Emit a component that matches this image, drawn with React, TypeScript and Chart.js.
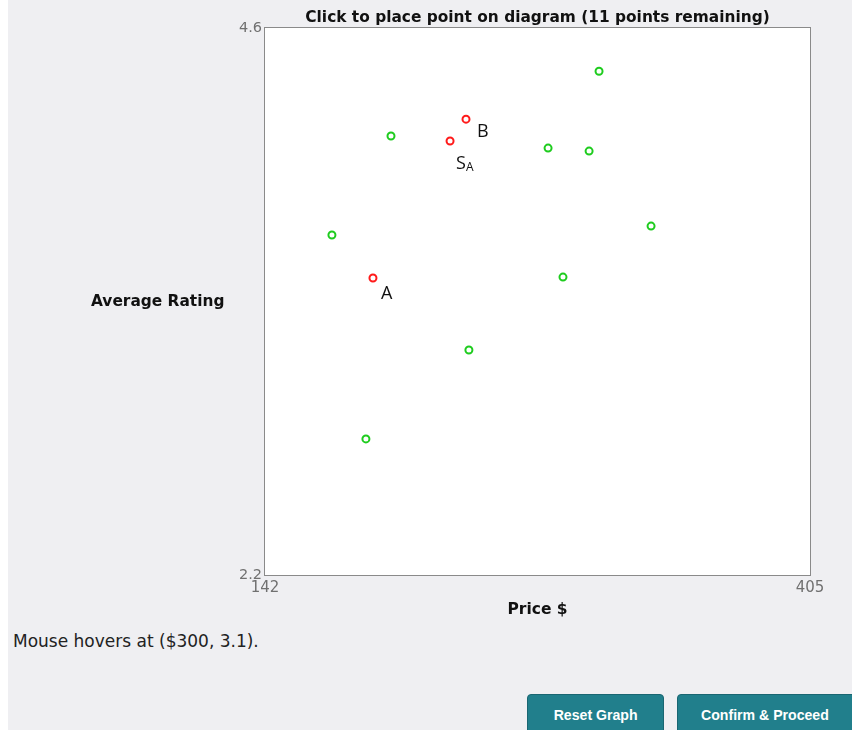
import React, { useEffect, useRef } from "react";
import { Chart, registerables } from "chart.js";

Chart.register(...registerables);

const TITLE = "Click to place point on diagram (11 points remaining)";
const X_LABEL = "Price $";
const Y_LABEL = "Average Rating";
const HOVER_TEXT = "Mouse hovers at ($300, 3.1).";
const BUTTONS = ["Reset Graph", "Confirm & Proceed"];

const X_MIN = 142;
const X_MAX = 405;
const Y_MIN = 2.2;
const Y_MAX = 4.6;
const X_TICKS = [142, 405];
const Y_TICKS = [2.2, 4.6];

const GREEN_X = [303.2, 202.8, 278.6, 298.4, 174.3, 328.3, 285.8, 240.4, 190.7];
const GREEN_Y = [4.41, 4.126, 4.073, 4.06, 3.692, 3.731, 3.507, 3.187, 2.797];

const RED_X = [194.1, 239.0, 231.3];
const RED_Y = [3.503, 4.2, 4.104];
const RED_NAMES = ["A", "B", "S"];
const RED_SUBS = ["", "", "A"];

// label styling offsets (px) relative to each red point
const LABEL_OFFSETS: [number, number][] = [
  [8, 21],
  [11, 18],
  [6, 28],
];

const FONT = "'DejaVu Sans', Verdana, sans-serif";
const PLOT_LEFT = 257; // canvas px, width of the y-axis box
const PLOT_RIGHT_PAD = 34;
const CANVAS_W = 836;
const CANVAS_H = 620;

const boxPlugin = {
  id: "boxPlugin",
  beforeDraw(chart: any) {
    const { ctx, chartArea: a } = chart;
    ctx.save();
    ctx.fillStyle = "#ffffff";
    ctx.fillRect(a.left, a.top, a.right - a.left, a.bottom - a.top);
    ctx.restore();
  },
  afterDatasetsDraw(chart: any) {
    const { ctx, chartArea: a } = chart;
    ctx.save();
    ctx.strokeStyle = "#8a8a8a";
    ctx.lineWidth = 1;
    ctx.strokeRect(
      Math.round(a.left) - 0.5,
      Math.round(a.top) - 0.5,
      Math.round(a.right - a.left) + 1,
      Math.round(a.bottom - a.top) + 1
    );
    const meta = chart.getDatasetMeta(1);
    meta.data.forEach((el: any, i: number) => {
      const [dx, dy] = LABEL_OFFSETS[i];
      ctx.fillStyle = "#111111";
      ctx.textAlign = "left";
      ctx.textBaseline = "alphabetic";
      ctx.font = "18px 'Open Sans', 'Noto Sans', sans-serif";
      const x = el.x + dx;
      const y = el.y + dy;
      ctx.fillText(RED_NAMES[i], x, y);
      if (RED_SUBS[i]) {
        const w = ctx.measureText(RED_NAMES[i]).width;
        ctx.font = "12px 'Open Sans', 'Noto Sans', sans-serif";
        ctx.fillText(RED_SUBS[i], x + w, y + 2);
      }
    });
    ctx.restore();
  },
};

export default function App() {
  const canvasRef = useRef<HTMLCanvasElement | null>(null);

  useEffect(() => {
    if (!canvasRef.current) return;
    const chart = new Chart(canvasRef.current, {
      type: "scatter",
      data: {
        datasets: [
          {
            data: GREEN_X.map((x, i) => ({ x, y: GREEN_Y[i] })),
            borderColor: "#1ecc1e",
            backgroundColor: "#ffffff",
            pointRadius: 3.5,
            pointBorderWidth: 2,
            pointHoverRadius: 3.5,
          },
          {
            data: RED_X.map((x, i) => ({ x, y: RED_Y[i] })),
            borderColor: "#ff1a1a",
            backgroundColor: "#ffffff",
            pointRadius: 3.5,
            pointBorderWidth: 2,
            pointHoverRadius: 3.5,
          },
        ],
      },
      options: {
        responsive: false,
        animation: false,
        layout: { padding: { left: 0, right: PLOT_RIGHT_PAD, top: 28, bottom: 0 } },
        plugins: {
          legend: { display: false },
          tooltip: { enabled: false },
          title: { display: false },
        },
        scales: {
          x: {
            type: "linear",
            min: X_MIN,
            max: X_MAX,
            afterBuildTicks: (s: any) => {
              s.ticks = X_TICKS.map((v) => ({ value: v }));
            },
            afterFit: (s: any) => {
              s.height = 45;
            },
            grid: { display: false, drawTicks: false },
            border: { display: false },
            ticks: {
              color: "#707070",
              font: { family: FONT, size: 15 },
              padding: 4,
              maxRotation: 0,
              autoSkip: false,
              callback: (v: any) => String(v),
            },
            title: {
              display: true,
              text: X_LABEL,
              color: "#111111",
              font: { family: FONT, size: 15.5, weight: "bold" },
              padding: { top: 0, bottom: 1 },
            },
          },
          y: {
            type: "linear",
            min: Y_MIN,
            max: Y_MAX,
            afterBuildTicks: (s: any) => {
              s.ticks = Y_TICKS.map((v) => ({ value: v }));
            },
            afterFit: (s: any) => {
              s.width = PLOT_LEFT;
            },
            grid: { display: false, drawTicks: false },
            border: { display: false },
            ticks: {
              color: "#707070",
              font: { family: FONT, size: 14.5 },
              padding: 3,
              autoSkip: false,
              callback: (v: any) => Number(v).toFixed(1),
            },
          },
        },
      },
      plugins: [boxPlugin],
    } as any);
    return () => chart.destroy();
  }, []);

  const btn: React.CSSProperties = {
    position: "absolute",
    top: 694,
    height: 50,
    background: "#217f8c",
    border: "1px solid #1a6672",
    borderRadius: 4,
    color: "#ffffff",
    fontFamily: "'Liberation Sans Narrow', 'Liberation Sans', Arial, sans-serif",
    fontWeight: "bold",
    fontSize: 15,
    boxSizing: "border-box",
    paddingTop: 11,
    textAlign: "center",
    lineHeight: "18px",
    whiteSpace: "nowrap",
  };
  const btnText: React.CSSProperties = {
    display: "inline-block",
    transform: "scaleX(0.94)",
  };

  return (
    <div
      style={{
        position: "fixed",
        left: 8,
        top: 0,
        width: 844,
        height: 730,
        background: "#efeff2",
        overflow: "hidden",
      }}
    >
      <canvas
        ref={canvasRef}
        width={CANVAS_W}
        height={CANVAS_H}
        style={{ position: "absolute", left: 0, top: 0, width: CANVAS_W, height: CANVAS_H }}
      />
      <div
        style={{
          position: "absolute",
          left: PLOT_LEFT - 40,
          width: CANVAS_W - PLOT_RIGHT_PAD - PLOT_LEFT + 80,
          top: 8,
          textAlign: "center",
          fontFamily: FONT,
          fontWeight: "bold",
          fontSize: 15.4,
          lineHeight: "18px",
          color: "#111111",
          whiteSpace: "nowrap",
        }}
      >
        {TITLE}
      </div>
      <div
        style={{
          position: "absolute",
          left: 83,
          top: 292,
          fontFamily: FONT,
          fontWeight: "bold",
          fontSize: 15.4,
          lineHeight: "18px",
          color: "#111111",
          whiteSpace: "nowrap",
        }}
      >
        {Y_LABEL}
      </div>
      <div
        style={{
          position: "absolute",
          left: 5,
          top: 631,
          fontFamily: FONT,
          fontSize: 17,
          lineHeight: "20px",
          color: "#222222",
          whiteSpace: "nowrap",
        }}
      >
        {HOVER_TEXT}
      </div>
      <div style={{ ...btn, left: 519, width: 137 }}>
        <span style={btnText}>{BUTTONS[0]}</span>
      </div>
      <div style={{ ...btn, left: 669, width: 182 }}>
        <span style={{ ...btnText, marginLeft: -6 }}>{BUTTONS[1]}</span>
      </div>
    </div>
  );
}
